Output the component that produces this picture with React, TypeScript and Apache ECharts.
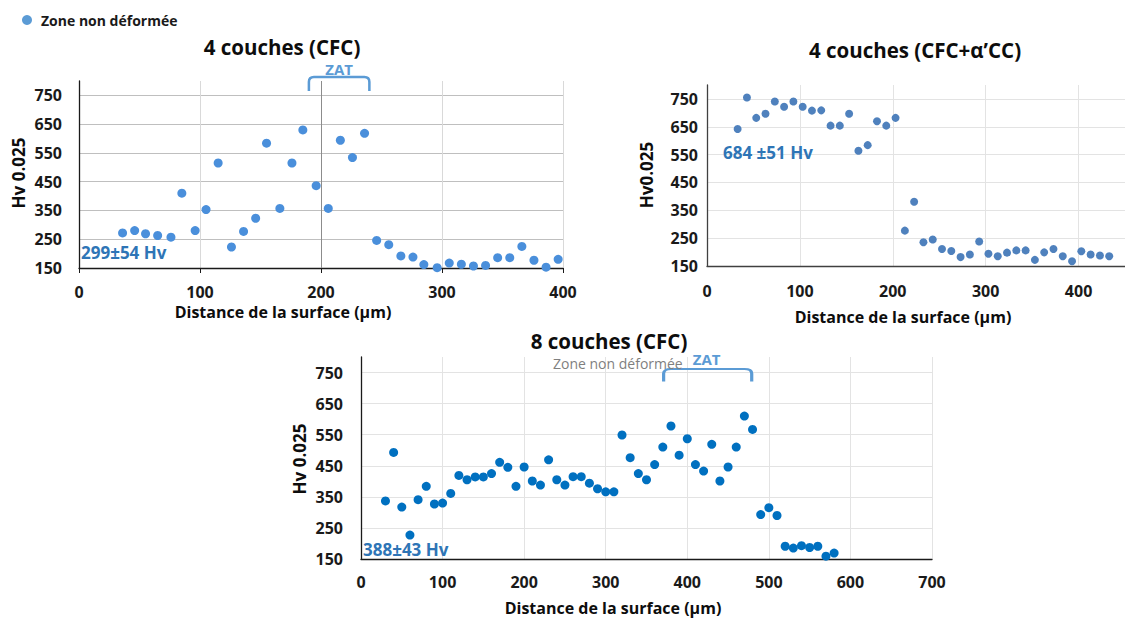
import React, { useEffect, useRef } from 'react';
import * as echarts from 'echarts';

const FONT = '"Open Sans", Lato, sans-serif';

// ---- Data ----
const legendName = 'Zone non déformée';

const titles = ['4 couches (CFC)', '4 couches (CFC+α’CC)', '8 couches (CFC)'];
const yNames = ['Hv 0.025', 'Hv0.025', 'Hv 0.025'];
const xName = 'Distance de la surface (µm)';
const notes = ['299±54 Hv', '684 ±51 Hv', '388±43 Hv'];

const yTicks = [150, 250, 350, 450, 550, 650, 750];
const x2Ticks = [0, 100, 200, 300, 400];

const x1 = [36, 46, 55, 65, 76, 85, 96, 105, 115, 126, 136, 146, 155, 166, 176, 185, 196, 206, 216, 226, 236, 246, 256, 266, 276, 285, 296, 306, 316, 326, 336, 346, 356, 366, 376, 386, 396];
const y1 = [272, 280, 269, 263, 257, 410, 280, 353, 515, 223, 277, 323, 584, 357, 515, 630, 436, 357, 594, 534, 618, 246, 231, 192, 188, 162, 151, 167, 163, 157, 159, 186, 186, 225, 177, 153, 180];

const x2 = [33, 43, 53, 63, 73, 83, 93, 103, 113, 123, 133, 143, 153, 163, 173, 183, 193, 203, 213, 223, 233, 243, 253, 263, 273, 283, 293, 303, 313, 323, 333, 343, 353, 363, 373, 383, 393, 403, 413, 423, 433];
const y2 = [642, 755, 682, 697, 741, 722, 741, 722, 708, 709, 654, 654, 697, 564, 584, 670, 654, 682, 277, 381, 235, 245, 211, 204, 182, 191, 238, 194, 185, 198, 206, 206, 172, 199, 211, 185, 167, 203, 191, 188, 185];

const x3 = [30, 40, 50, 60, 70, 80, 90, 100, 110, 120, 130, 140, 150, 160, 170, 180, 190, 200, 210, 220, 230, 240, 250, 260, 270, 280, 290, 300, 310, 320, 330, 340, 350, 360, 370, 380, 390, 400, 410, 420, 430, 440, 450, 460, 470, 480, 490, 500, 510, 520, 530, 540, 550, 560, 570, 580];
const y3 = [337, 493, 317, 227, 341, 384, 327, 330, 361, 419, 405, 414, 414, 425, 461, 445, 384, 446, 401, 388, 469, 405, 388, 415, 415, 394, 376, 366, 366, 549, 476, 425, 405, 454, 510, 578, 484, 537, 454, 433, 519, 401, 446, 510, 610, 567, 293, 315, 290, 191, 185, 193, 187, 191, 159, 169];

const zat1 = [190, 240];
const zat3 = [371, 479];

echarts.graphic.registerShape(
  'bracket',
  echarts.graphic.extendPath('M0,14 L0,5 Q0,0 5,0 L55,0 Q60,0 60,5 L60,14', {}) as any
);

const zip = (xs: number[], ys: number[]) => xs.map((x, i) => [x, ys[i]]);

function yAxisCfg(gridIndex: number, axisColor: string, gridColor: string, margin: number) {
  return {
    type: 'value',
    gridIndex,
    min: 150,
    max: 800,
    axisLine: { show: true, lineStyle: { color: axisColor, width: 1.3 } },
    axisTick: { show: false, customValues: yTicks },
    axisLabel: {
      customValues: yTicks,
      fontFamily: FONT,
      fontWeight: 'bold',
      fontSize: 16,
      lineHeight: 16,
      color: '#1a1a1a',
      margin,
    },
    splitLine: { show: true, lineStyle: { color: gridColor, width: 1 } },
  };
}

export default function App() {
  const ref = useRef<HTMLDivElement>(null);
  useEffect(() => {
    const chart = echarts.init(ref.current!, null, { renderer: 'svg' });
    const labelStyle = {
      fontFamily: FONT,
      fontWeight: 'bold',
      fontSize: 16,
      color: '#1a1a1a',
      lineHeight: 16,
    };
    chart.setOption({
      animation: false,
      backgroundColor: '#ffffff',
      legend: {
        left: 17,
        top: 8,
        itemWidth: 10,
        itemHeight: 10,
        itemGap: 8,
        icon: 'circle',
        data: [{ name: legendName, itemStyle: { color: '#5B9BD5' } }],
        textStyle: { fontFamily: FONT, fontWeight: 'bold', fontSize: 14, color: '#1a1a1a', padding: [0, 0, 0, 4] },
        selectedMode: false,
      },
      grid: [
        { left: 79, top: 81, width: 484, height: 187 },
        { left: 707, top: 85, width: 420, height: 181 },
        { left: 361, top: 357, width: 571, height: 202 },
      ],
      xAxis: [
        {
          type: 'value',
          gridIndex: 0,
          min: 0,
          max: 400,
          interval: 100,
          axisLine: { show: true, onZero: false, lineStyle: { color: '#1a1a1a', width: 1.3 } },
          axisTick: { show: true, inside: false, length: 5, lineStyle: { color: '#1a1a1a' } },
          axisLabel: { ...labelStyle, margin: 16 },
          splitLine: { show: true, lineStyle: { color: '#d9d9d9' } },
        },
        {
          type: 'value',
          gridIndex: 1,
          min: 0,
          max: 450,
          axisLine: { show: true, onZero: false, lineStyle: { color: '#404040', width: 1.3 } },
          axisTick: { show: false, customValues: x2Ticks },
          axisLabel: { ...labelStyle, margin: 17, customValues: x2Ticks },
          splitLine: { show: true, lineStyle: { color: '#e3e3e3' } },
        },
        {
          type: 'value',
          gridIndex: 2,
          min: 0,
          max: 700,
          interval: 100,
          axisLine: { show: true, onZero: false, lineStyle: { color: '#1a1a1a', width: 1.3 } },
          axisTick: { show: false },
          axisLabel: { ...labelStyle, margin: 15 },
          splitLine: { show: true, lineStyle: { color: '#e3e3e3' } },
        },
      ],
      yAxis: [
        yAxisCfg(0, '#1a1a1a', '#bfbfbf', 17),
        yAxisCfg(1, '#404040', '#e3e3e3', 9),
        yAxisCfg(2, '#1a1a1a', '#e3e3e3', 18),
      ],
      series: [
        {
          name: legendName,
          type: 'scatter',
          xAxisIndex: 0,
          yAxisIndex: 0,
          symbolSize: 9,
          itemStyle: { color: '#4A8FDB', opacity: 1 },
          data: zip(x1, y1),
          markLine: {
            silent: true,
            symbol: 'none',
            label: { show: false },
            lineStyle: { color: '#8c8c8c', type: 'solid', width: 1 },
            data: [{ xAxis: 200 }],
          },
        },
        {
          name: 'CFC+α’CC',
          type: 'scatter',
          xAxisIndex: 1,
          yAxisIndex: 1,
          symbolSize: 8,
          itemStyle: { color: '#4F81BD', opacity: 1 },
          data: zip(x2, y2),
        },
        {
          name: '8 couches',
          type: 'scatter',
          xAxisIndex: 2,
          yAxisIndex: 2,
          symbolSize: 9,
          itemStyle: { color: '#0070C0', opacity: 1 },
          data: zip(x3, y3),
        },
      ],
    });

    const px = (axis: number, v: number) => chart.convertToPixel({ xAxisIndex: axis }, v) as number;
    const b1x = px(0, zat1[0]);
    const b1w = px(0, zat1[1]) - b1x;
    const b3x = px(2, zat3[0]);
    const b3w = px(2, zat3[1]) - b3x;

    const txt = (
      text: string,
      x: number,
      y: number,
      size: number,
      fill: string,
      weight: string,
      align: string,
      rotation = 0
    ) => ({
      type: 'text',
      x,
      y,
      rotation,
      style: {
        text,
        fill,
        font: `${weight} ${size}px ${FONT}`,
        lineHeight: size,
        textAlign: align,
        textVerticalAlign: 'middle',
      },
    });
    const bracket = (x: number, y: number, w: number, h: number) => ({
      type: 'bracket',
      x,
      y,
      scaleX: w / 60,
      scaleY: h / 14,
      style: { stroke: '#5B9BD5', fill: null, lineWidth: 2.5, strokeNoScale: true },
    });

    chart.setOption({
      graphic: [
        txt(titles[0], 282, 47, 20.5, '#0d0d0d', 'bold', 'center'),
        txt(titles[1], 915, 50, 20.5, '#0d0d0d', 'bold', 'center'),
        txt(titles[2], 609, 341, 20.5, '#0d0d0d', 'bold', 'center'),
        txt(xName, 283, 312, 16, '#0d0d0d', 'bold', 'center'),
        txt(xName, 903, 317, 16, '#0d0d0d', 'bold', 'center'),
        txt(xName, 613, 608, 16, '#0d0d0d', 'bold', 'center'),
        txt(yNames[0], 18, 173, 17, '#0d0d0d', 'bold', 'center', Math.PI / 2),
        txt(yNames[1], 646, 175, 17, '#0d0d0d', 'bold', 'center', Math.PI / 2),
        txt(yNames[2], 299, 459, 17, '#0d0d0d', 'bold', 'center', Math.PI / 2),
        txt(notes[0], 81, 252, 17, '#2E75B6', 'bold', 'left'),
        txt(notes[1], 723, 152, 17, '#2E75B6', 'bold', 'left'),
        txt(notes[2], 363, 549, 17, '#2E75B6', 'bold', 'left'),
        bracket(b1x, 77, b1w, 14),
        txt('ZAT', b1x + b1w / 2, 69, 15, '#5B9BD5', 'bold', 'center'),
        bracket(b3x, 369, b3w, 12.5),
        txt('ZAT', b3x + b3w / 2 - 1, 359, 15, '#5B9BD5', 'bold', 'center'),
        txt(legendName, 553, 363, 14, '#7f7f7f', 'normal', 'left'),
      ],
    });

    return () => chart.dispose();
  }, []);
  return (
    <div
      ref={ref}
      style={{ position: 'absolute', left: 0, top: 0, width: 1125, height: 618, background: '#fff' }}
    />
  );
}
